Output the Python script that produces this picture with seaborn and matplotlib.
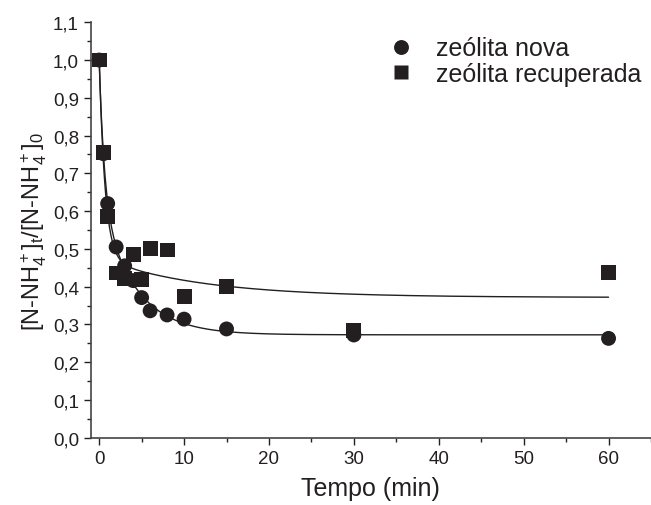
import numpy as np
import pandas as pd
import seaborn as sns
from matplotlib import pyplot as plt
from matplotlib.ticker import MultipleLocator, FuncFormatter

# tempo (min) e razao [N-NH4+]t/[N-NH4+]0
tempo = [0, 0.5, 1, 2, 3, 4, 5, 6, 8, 10, 15, 30, 60]
nova = [1.0, 0.752, 0.620, 0.505, 0.455, 0.416, 0.371, 0.336, 0.325, 0.314, 0.288, 0.272, 0.263]
recuperada = [1.0, 0.756, 0.586, 0.436, 0.422, 0.485, 0.418, 0.500, 0.497, 0.374, 0.401, 0.283, 0.438]
nomes = ['zeólita nova', 'zeólita recuperada']


def ajuste_exp2(t, y):
    # y = y0 + A1*exp(-t/t1) + A2*exp(-t/t2), busca em t1, t2 e minimos quadrados no resto
    t = np.asarray(t, float)
    y = np.asarray(y, float)
    melhor = None
    for t1 in np.linspace(0.1, 3, 60):
        for t2 in np.linspace(1, 25, 121):
            if t2 <= t1:
                continue
            X = np.column_stack([np.ones_like(t), np.exp(-t / t1), np.exp(-t / t2)])
            coef, *_ = np.linalg.lstsq(X, y, rcond=None)
            if (coef[1:] < 0).any():
                continue
            sse = ((X @ coef - y) ** 2).sum()
            if melhor is None or sse < melhor[0]:
                melhor = (sse, t1, t2, coef)
    _, t1, t2, coef = melhor
    tt = np.linspace(0, 60, 600)
    return tt, coef[0] + coef[1] * np.exp(-tt / t1) + coef[2] * np.exp(-tt / t2)


df = pd.DataFrame({
    'Tempo': tempo * 2,
    'Razao': nova + recuperada,
    'Amostra': [nomes[0]] * len(tempo) + [nomes[1]] * len(tempo),
})

cor = '#231f20'
sns.set_style('ticks')
plt.rcParams['font.family'] = ['Liberation Sans', 'DejaVu Sans']
plt.rcParams['mathtext.fontset'] = 'custom'
plt.rcParams['mathtext.rm'] = 'Liberation Sans'
plt.rcParams['mathtext.it'] = 'Liberation Sans'
plt.rcParams['mathtext.default'] = 'regular'

fig = plt.figure(figsize=(6.51, 5.06), dpi=100)
ax = fig.add_axes([0.1393, 0.133, 0.8607, 0.821])

for y in (nova, recuperada):
    tt, yy = ajuste_exp2(tempo, y)
    sns.lineplot(x=tt, y=yy, ax=ax, color=cor, lw=1.0, legend=False)

sns.scatterplot(data=df, x='Tempo', y='Razao', style='Amostra',
                markers={nomes[0]: 'o', nomes[1]: 's'}, color=cor,
                s=115, edgecolor='none', ax=ax, zorder=3)

ax.set_xlim(-1, 65)
ax.set_ylim(0, 1.1)
ax.xaxis.set_major_locator(MultipleLocator(10))
ax.xaxis.set_minor_locator(MultipleLocator(5))
ax.yaxis.set_major_locator(MultipleLocator(0.1))
ax.yaxis.set_minor_locator(MultipleLocator(0.05))
ax.yaxis.set_major_formatter(FuncFormatter(lambda v, p: '{:.1f}'.format(v).replace('.', ',')))
ax.tick_params(which='major', direction='out', length=5, width=1, labelsize=13.5, colors=cor)
ax.tick_params(which='minor', direction='out', length=3, width=1, colors=cor)
sns.despine(ax=ax)
for s in ('left', 'bottom'):
    ax.spines[s].set_color('#444444')
    ax.spines[s].set_linewidth(1.2)

ax.set_xlabel('Tempo (min)', fontsize=18, color=cor, labelpad=7)
ax.set_ylabel('[N-NH$_4^+$]$_t$/[N-NH$_4^+$]$_0$', fontsize=17, color=cor, labelpad=3)

leg = ax.legend(loc='upper right', frameon=False, fontsize=18, title=None,
                handletextpad=0.4, labelspacing=0.05, borderaxespad=0.0,
                bbox_to_anchor=(1.0, 0.99), markerscale=1.0)
for txt in leg.get_texts():
    txt.set_color(cor)

fig.savefig('out.png', dpi=100)
